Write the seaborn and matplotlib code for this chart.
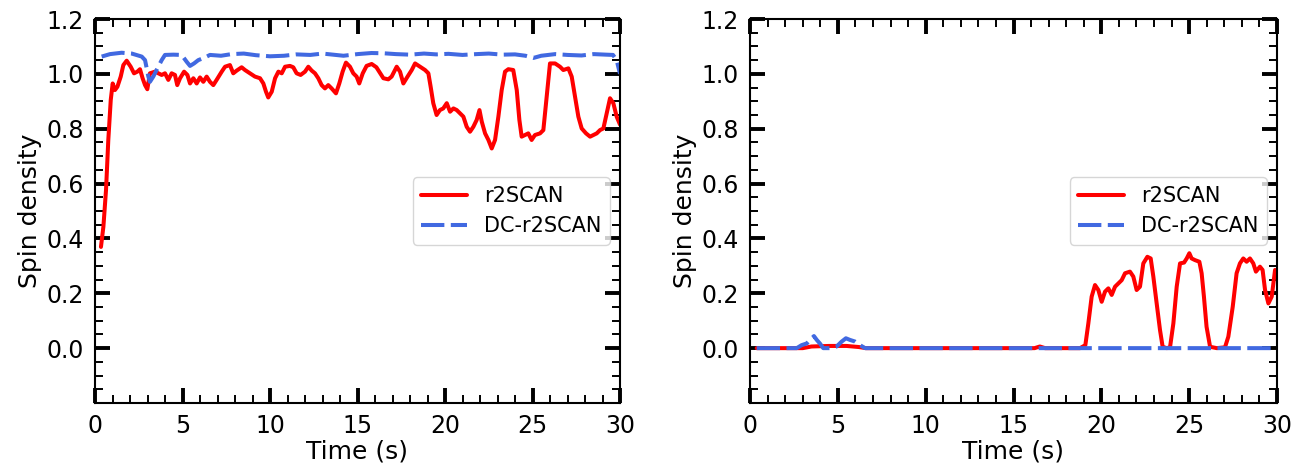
import matplotlib
matplotlib.use("Agg")
import matplotlib.pyplot as plt
import seaborn as sns
from matplotlib.ticker import MultipleLocator, FixedLocator

# ---- left panel: spin density on the first site ----
t_left_r2scan = [0.34, 0.48, 0.63, 0.76, 0.90, 1.01, 1.14, 1.28, 1.47, 1.62, 1.81, 2.04, 2.23,
                 2.42, 2.57, 2.72, 2.86, 2.99, 3.14, 3.43, 3.62, 3.81, 4.00, 4.19, 4.38, 4.57,
                 4.70, 4.86, 5.09, 5.28, 5.43, 5.62, 5.81, 6.00, 6.19, 6.38, 6.57, 6.76, 6.95,
                 7.24, 7.43, 7.71, 7.90, 8.10, 8.38, 8.57, 8.86, 9.14, 9.43, 9.62, 9.77, 9.90,
                 10.10, 10.29, 10.48, 10.67, 10.86, 11.14, 11.33, 11.52, 11.75, 12.00, 12.19,
                 12.38, 12.57, 12.76, 12.95, 13.14, 13.33, 13.52, 13.77, 13.96, 14.15, 14.34,
                 14.57, 14.76, 14.95, 15.10, 15.30, 15.52, 15.81, 16.08, 16.48, 16.76, 16.95,
                 17.24, 17.43, 17.62, 17.86, 18.10, 18.29, 18.57, 18.86, 19.05, 19.18, 19.33,
                 19.52, 19.71, 19.90, 20.10, 20.29, 20.48, 20.67, 20.86, 21.05, 21.24, 21.43,
                 21.62, 21.81, 21.97, 22.10, 22.29, 22.48, 22.67, 22.86, 23.05, 23.24, 23.43,
                 23.62, 23.90, 24.10, 24.25, 24.38, 24.57, 24.76, 24.95, 25.14, 25.43, 25.62,
                 25.81, 26.00, 26.29, 26.57, 26.76, 27.05, 27.24, 27.43, 27.62, 27.81, 28.06,
                 28.29, 28.48, 28.67, 28.86, 29.05, 29.24, 29.43, 29.62, 29.81, 30.00]
s_left_r2scan = [0.369, 0.443, 0.577, 0.759, 0.905, 0.965, 0.941, 0.953, 0.990, 1.032, 1.048,
                 1.026, 1.002, 1.008, 1.017, 0.984, 0.959, 0.944, 1.002, 1.008, 1.002, 0.996,
                 1.002, 0.978, 1.002, 0.996, 0.959, 0.984, 1.008, 0.996, 0.965, 0.984, 0.965,
                 0.987, 0.971, 0.990, 0.971, 0.959, 0.978, 1.008, 1.026, 1.032, 1.002, 1.012,
                 1.024, 1.014, 1.002, 0.990, 0.984, 0.965, 0.935, 0.914, 0.935, 0.984, 1.008,
                 1.002, 1.026, 1.029, 1.024, 1.002, 0.996, 1.008, 1.026, 1.012, 1.002, 0.984,
                 0.959, 0.947, 0.959, 0.947, 0.929, 0.965, 1.008, 1.041, 1.026, 1.002, 0.990,
                 0.965, 1.002, 1.029, 1.036, 1.024, 0.984, 0.980, 0.990, 1.026, 1.008, 0.965,
                 0.990, 1.014, 1.038, 1.026, 1.014, 1.002, 0.953, 0.893, 0.850, 0.868, 0.874,
                 0.893, 0.862, 0.874, 0.868, 0.856, 0.844, 0.807, 0.789, 0.807, 0.832, 0.868,
                 0.826, 0.783, 0.759, 0.728, 0.759, 0.844, 0.941, 1.008, 1.017, 1.014, 0.941,
                 0.832, 0.771, 0.777, 0.783, 0.759, 0.777, 0.783, 0.795, 0.917, 1.038, 1.038,
                 1.026, 1.014, 1.020, 0.990, 0.917, 0.844, 0.801, 0.783, 0.771, 0.777, 0.783,
                 0.795, 0.801, 0.856, 0.911, 0.893, 0.844, 0.815]

t_left_dc = [0.38, 0.86, 1.52, 2.10, 2.67, 2.86, 3.05, 3.14, 3.33, 3.52, 3.81, 4.00, 4.48,
             4.95, 5.24, 5.43, 5.66, 5.90, 6.29, 6.57, 7.20, 7.80, 8.50, 9.20, 10.00, 10.80,
             11.50, 12.30, 13.00, 13.60, 14.20, 15.00, 15.80, 16.50, 17.20, 18.00, 18.80,
             19.50, 20.20, 21.00, 21.80, 22.50, 23.30, 24.00, 24.60, 25.05, 25.50, 26.30,
             27.00, 27.80, 28.50, 29.20, 29.60, 29.81, 30.00]
s_left_dc = [1.063, 1.072, 1.077, 1.074, 1.063, 1.050, 0.990, 0.971, 0.990, 1.014, 1.050,
             1.069, 1.070, 1.069, 1.044, 1.029, 1.038, 1.050, 1.060, 1.069, 1.066, 1.072,
             1.074, 1.068, 1.064, 1.066, 1.071, 1.069, 1.074, 1.070, 1.066, 1.072, 1.076,
             1.075, 1.072, 1.070, 1.074, 1.071, 1.073, 1.069, 1.072, 1.074, 1.070, 1.071,
             1.066, 1.058, 1.066, 1.072, 1.069, 1.067, 1.072, 1.070, 1.069, 1.050, 1.000]

# ---- right panel: spin density on the second site ----
t_right_r2scan = [0.38, 2.00, 3.00, 3.50, 4.50, 5.50, 6.20, 6.60, 10.00, 16.20, 16.50, 16.80,
                  18.79, 19.09, 19.26, 19.45, 19.64, 19.83, 20.02, 20.21, 20.40, 20.59, 20.78,
                  20.97, 21.16, 21.35, 21.63, 21.82, 22.01, 22.20, 22.39, 22.62, 22.81, 22.96,
                  23.15, 23.34, 23.49, 23.72, 23.91, 24.10, 24.29, 24.48, 24.71, 24.86, 25.01,
                  25.14, 25.33, 25.58, 25.71, 25.84, 25.99, 26.19, 26.57, 27.04, 27.23, 27.48,
                  27.70, 27.89, 28.08, 28.27, 28.46, 28.65, 28.80, 29.03, 29.18, 29.32, 29.51,
                  29.70, 29.89, 30.00]
s_right_r2scan = [0.000, 0.000, 0.000, 0.006, 0.008, 0.008, 0.004, 0.000, 0.000, 0.000, 0.006,
                  0.000, 0.000, 0.011, 0.090, 0.188, 0.230, 0.212, 0.169, 0.206, 0.218, 0.194,
                  0.224, 0.236, 0.248, 0.273, 0.279, 0.261, 0.212, 0.224, 0.309, 0.333, 0.327,
                  0.261, 0.163, 0.066, 0.005, 0.000, 0.003, 0.090, 0.224, 0.309, 0.312, 0.327,
                  0.346, 0.327, 0.321, 0.315, 0.273, 0.188, 0.078, 0.005, 0.000, 0.003, 0.042,
                  0.151, 0.273, 0.309, 0.327, 0.315, 0.327, 0.309, 0.279, 0.297, 0.285, 0.212,
                  0.163, 0.188, 0.285, 0.280]

t_right_dc = [0.38, 1.00, 2.00, 2.66, 2.94, 3.23, 3.42, 3.64, 3.80, 3.98, 4.17, 4.55, 4.93,
              5.22, 5.46, 5.69, 5.98, 6.26, 6.55, 8.00, 12.00, 16.00, 20.00, 24.00, 28.00, 30.00]
s_right_dc = [0.000, 0.000, 0.000, 0.000, 0.011, 0.017, 0.030, 0.044, 0.030, 0.017, 0.000,
              0.000, 0.006, 0.024, 0.036, 0.030, 0.024, 0.011, 0.000, 0.000, 0.000, 0.000,
              0.000, 0.000, 0.000, 0.000]

labels = ["r2SCAN", "DC-r2SCAN"]
colors = ["red", "royalblue"]
y_major = [0.0, 0.2, 0.4, 0.6, 0.8, 1.0, 1.2]

sns.set_style("white")
plt.rcParams["font.family"] = ["DejaVu Sans"]
plt.rcParams["text.color"] = "black"
plt.rcParams["axes.labelcolor"] = "black"
plt.rcParams["legend.edgecolor"] = "0.8"

W, H = 1293, 466
fig = plt.figure(figsize=(W / 100, H / 100), dpi=100)
ax_left = fig.add_axes([95 / W, 1 - 403 / H, 525 / W, 384 / H])
ax_right = fig.add_axes([750 / W, 1 - 403 / H, 527 / W, 384 / H])

panels = [
    (ax_left, t_left_r2scan, s_left_r2scan, t_left_dc, s_left_dc),
    (ax_right, t_right_r2scan, s_right_r2scan, t_right_dc, s_right_dc),
]

for ax, t_a, s_a, t_b, s_b in panels:
    sns.lineplot(x=t_a, y=s_a, ax=ax, color=colors[0], linewidth=2.9,
                 label=labels[0], sort=False)
    sns.lineplot(x=t_b, y=s_b, ax=ax, color=colors[1], linewidth=2.9,
                 linestyle=(0, (5.8, 1.6)), label=labels[1], sort=False)
    ax.set_xlim(0, 30)
    ax.set_ylim(-0.2, 1.2)
    ax.xaxis.set_major_locator(MultipleLocator(5))
    ax.xaxis.set_minor_locator(MultipleLocator(1))
    ax.yaxis.set_major_locator(FixedLocator(y_major))
    ax.yaxis.set_minor_locator(MultipleLocator(0.05))
    ax.tick_params(which="both", direction="in", top=True, right=True,
                   bottom=True, left=True, colors="black")
    ax.tick_params(which="major", length=11, width=2.8, labelsize=17, pad=8)
    ax.tick_params(which="minor", length=5.5, width=1.4)
    for sp in ax.spines.values():
        sp.set_linewidth(1.5)
        sp.set_color("black")
    ax.set_xlabel("Time (s)", fontsize=18, labelpad=1)
    ax.set_ylabel("Spin density", fontsize=18, labelpad=3)
    ax.legend(loc="center right", fontsize=15, handlelength=2.2)

fig.savefig("out.png", dpi=100)
